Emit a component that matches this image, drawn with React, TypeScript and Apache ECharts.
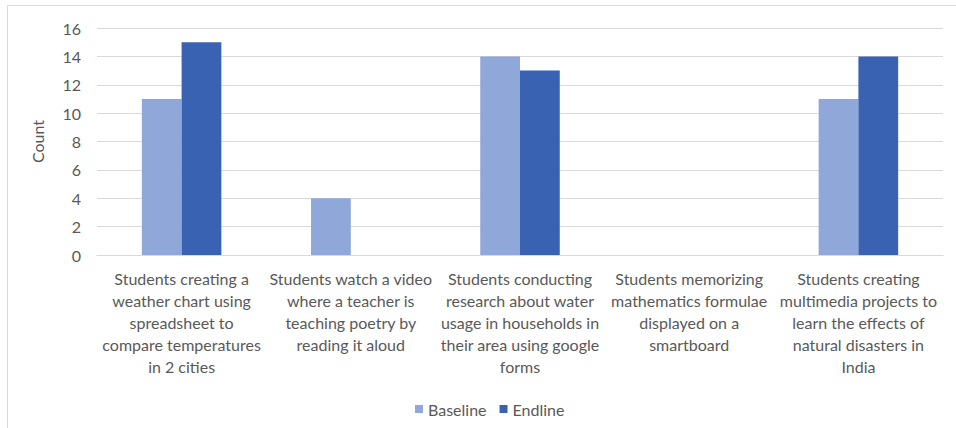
import React, { useEffect, useRef } from "react";
import * as echarts from "echarts";

// Activities observed in classrooms (axis labels already wrapped)
const categories = [
  "Students creating a\nweather chart using\nspreadsheet to\ncompare temperatures\nin 2 cities",
  "Students watch a video\nwhere a teacher is\nteaching poetry by\nreading it aloud",
  "Students conducting\nresearch about water\nusage in households in\ntheir area using google\nforms",
  "Students memorizing\nmathematics formulae\ndisplayed on a\nsmartboard",
  "Students creating\nmultimedia projects to\nlearn the effects of\nnatural disasters in\nIndia",
];

const baseline = [11, 4, 14, 0, 11];
const endline = [15, 0, 13, 0, 14];

const seriesNames = ["Baseline", "Endline"];
const yMax = 16;
const yStep = 2;

const FONT = "Lato, 'Noto Sans', sans-serif";
const TEXT = "#595959";
const GRID = "#d9d9d9";

export default function App() {
  const ref = useRef<HTMLDivElement>(null);

  useEffect(() => {
    if (!ref.current) return;
    const chart = echarts.init(ref.current, undefined, { renderer: "svg" });
    chart.setOption({
      animation: false,
      backgroundColor: "#ffffff",
      textStyle: { fontFamily: FONT },
      graphic: [
        {
          type: "rect",
          shape: { x: 7.5, y: 5.5, width: 1000, height: 500 },
          style: { fill: "none", stroke: GRID, lineWidth: 1 },
          silent: true,
        },
      ],
      grid: { left: 97, right: 13, top: 28, bottom: 173 },
      legend: {
        data: seriesNames,
        left: 410,
        top: 396,
        itemWidth: 8,
        itemHeight: 8,
        itemGap: 13,
        icon: "rect",
        textStyle: { color: TEXT, fontSize: 16, fontFamily: FONT },
      },
      xAxis: {
        type: "category",
        data: categories,
        axisLine: { show: true, lineStyle: { color: GRID } },
        axisTick: { show: false },
        axisLabel: {
          interval: 0,
          color: TEXT,
          fontSize: 16,
          fontFamily: FONT,
          lineHeight: 22,
          margin: 12,
          align: "center",
        },
      },
      yAxis: {
        type: "value",
        min: 0,
        max: yMax,
        interval: yStep,
        name: "Count",
        nameLocation: "middle",
        nameGap: 52,
        nameRotate: 90,
        nameTextStyle: { color: TEXT, fontSize: 16, fontFamily: FONT },
        axisLine: { show: false },
        axisTick: { show: false },
        axisLabel: { color: TEXT, fontSize: 16, fontFamily: FONT, margin: 16 },
        splitLine: { lineStyle: { color: GRID, width: 1 } },
      },
      series: [
        {
          name: seriesNames[0],
          type: "bar",
          data: baseline,
          itemStyle: { color: "#8fa7d9" },
          barGap: "0%",
          barCategoryGap: "53%",
        },
        {
          name: seriesNames[1],
          type: "bar",
          data: endline,
          itemStyle: { color: "#3a62b2" },
          barGap: "0%",
          barCategoryGap: "53%",
        },
      ],
    });
    return () => chart.dispose();
  }, []);

  return (
    <div
      ref={ref}
      style={{ position: "absolute", left: 0, top: 0, width: 956, height: 428 }}
    />
  );
}
